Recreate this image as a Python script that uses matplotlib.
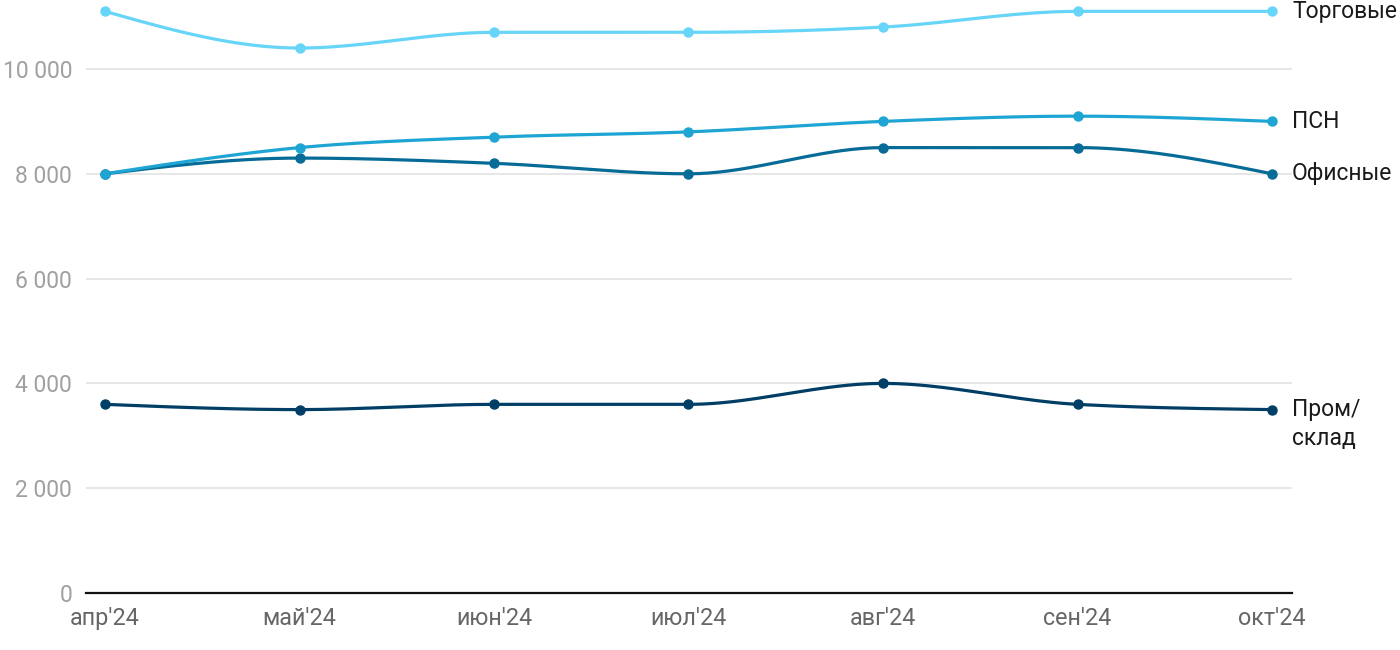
import numpy as np
import matplotlib
matplotlib.use("Agg")
import matplotlib.pyplot as plt

plt.rcParams['font.family'] = ['Roboto', 'DejaVu Sans']

months = ["апр'24", "май'24", "июн'24", "июл'24", "авг'24", "сен'24", "окт'24"]
torg = [11100, 10400, 10700, 10700, 10800, 11100, 11100]
psn = [8000, 8500, 8700, 8800, 9000, 9100, 9000]
ofis = [8000, 8300, 8200, 8000, 8500, 8500, 8000]
prom = [3600, 3500, 3600, 3600, 4000, 3600, 3500]

series = [
    ("Торговые", torg, "#66d5f8"),
    ("ПСН", psn, "#1fa5d3"),
    ("Офисные", ofis, "#066c97"),
    ("Пром/\nсклад", prom, "#003e66"),
]


def monotone(x, y, n=40):
    x = np.asarray(x, float); y = np.asarray(y, float)
    h = np.diff(x); s = np.diff(y) / h
    t = np.zeros_like(y)
    for i in range(1, len(y) - 1):
        p = (s[i - 1] * h[i] + s[i] * h[i - 1]) / (h[i - 1] + h[i])
        t[i] = (np.sign(s[i - 1]) + np.sign(s[i])) * min(abs(s[i - 1]), abs(s[i]), 0.5 * abs(p))
    t[0] = (3 * s[0] - t[1]) / 2
    t[-1] = (3 * s[-1] - t[-2]) / 2
    xs, ys = [], []
    for i in range(len(y) - 1):
        u = np.linspace(0, 1, n)
        h00 = 2 * u**3 - 3 * u**2 + 1
        h10 = u**3 - 2 * u**2 + u
        h01 = -2 * u**3 + 3 * u**2
        h11 = u**3 - u**2
        xs.append(x[i] + u * h[i])
        ys.append(h00 * y[i] + h10 * h[i] * t[i] + h01 * y[i + 1] + h11 * h[i] * t[i + 1])
    return np.concatenate(xs), np.concatenate(ys)


fig = plt.figure(figsize=(14, 6.5), dpi=100)
ax = fig.add_axes([86 / 1400, 1 - 593 / 650, (1292 - 86) / 1400, 593 / 650])
x = np.arange(len(months))

for name, vals, col in series[::-1]:
    xs, ys = monotone(x, vals)
    ax.plot(xs, ys, color=col, lw=2.3, solid_capstyle='round', zorder=3)
    ax.plot(x, vals, 'o', color=col, ms=6.5, zorder=4)
    multi = '\n' in name
    ax.text(6.103, vals[-1] + (220 if multi else 0), name, fontsize=16.5,
            color="#1a1a1a", va='top' if multi else 'center', ha='left',
            clip_on=False, linespacing=1.35)

ax.set_xlim(-(105 - 86) / 194.5, 6 + (1292 - 1272) / 194.5)
ax.set_ylim(0, 593 / 0.0524)
ax.set_yticks([0, 2000, 4000, 6000, 8000, 10000])
ax.set_yticklabels(["0", "2 000", "4 000", "6 000", "8 000", "10 000"])
ax.set_xticks(x)
ax.set_xticklabels(months)
ax.grid(axis='y', color='#e3e3e3', lw=1.2)
ax.set_axisbelow(True)
for s in ['top', 'right', 'left']:
    ax.spines[s].set_visible(False)
ax.spines['bottom'].set_color('#111111')
ax.spines['bottom'].set_linewidth(1.6)
ax.tick_params(axis='y', length=0, pad=10, labelsize=16.5, labelcolor='#a0a0a0')
ax.tick_params(axis='x', length=0, pad=10, labelsize=16.8, labelcolor='#666666')

fig.savefig("out.png", dpi=100)
